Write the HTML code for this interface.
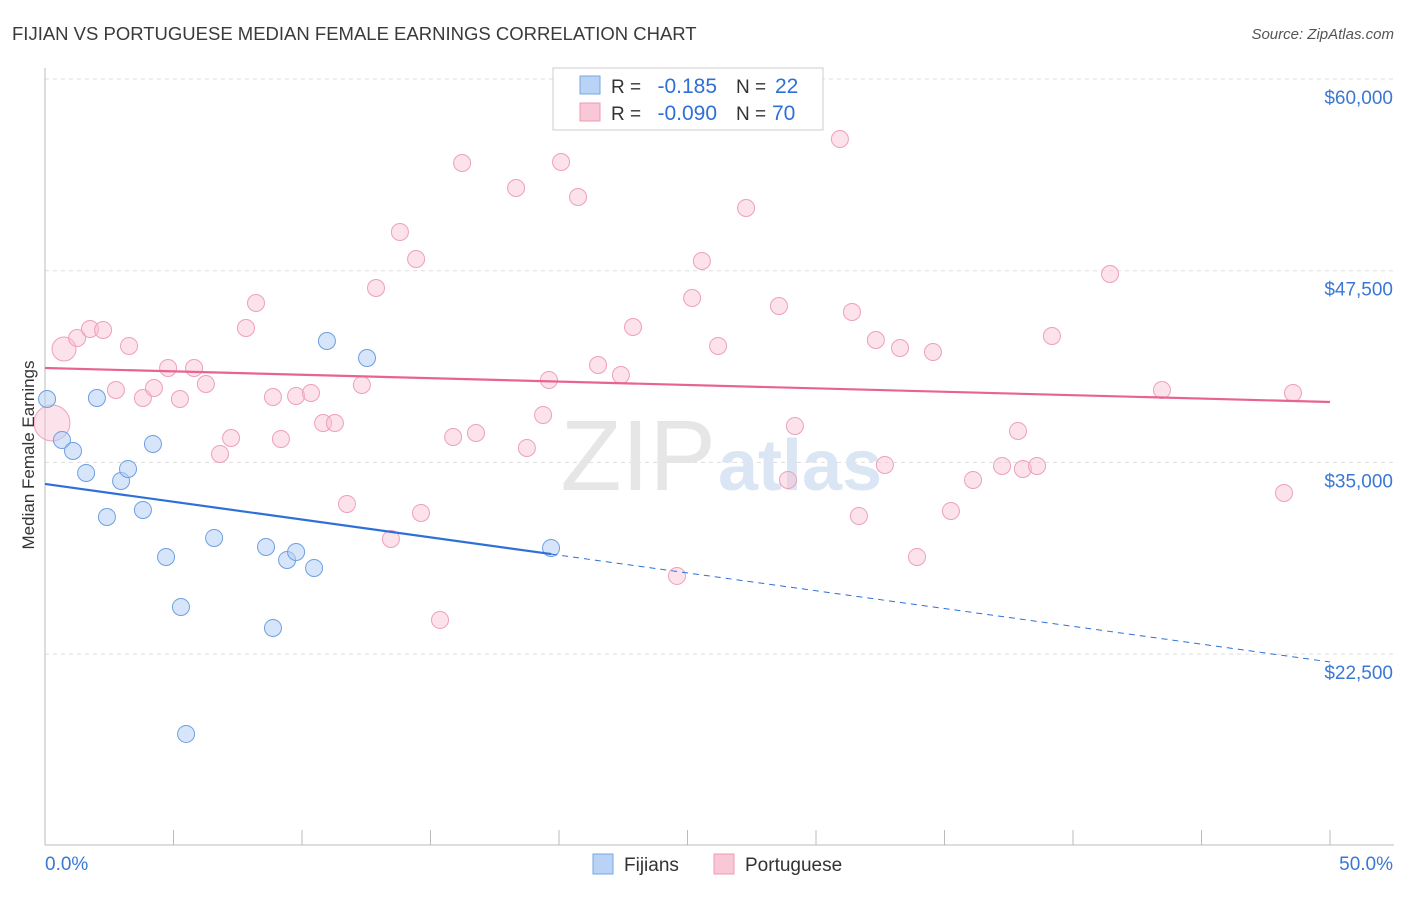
<!DOCTYPE html>
<html><head><meta charset="utf-8"><style>
body{margin:0;background:#fff;font-family:"Liberation Sans",sans-serif;}
svg text{font-family:"Liberation Sans",sans-serif;}
</style></head><body>
<svg id="chart" width="1406" height="892" xmlns="http://www.w3.org/2000/svg">
<text x="12" y="40" font-size="18.5" fill="#3a3a3a">FIJIAN VS PORTUGUESE MEDIAN FEMALE EARNINGS CORRELATION CHART</text>
<text x="1394" y="39" font-size="15" fill="#555" font-style="italic" text-anchor="end">Source: ZipAtlas.com</text>
<g id="grid"></g>
<text x="716" y="490" font-size="100" fill="#e6e6e6" text-anchor="end" font-family="Liberation Serif">ZIP</text>
<text x="718" y="490" font-size="72" fill="#dbe6f5" font-weight="bold">atlas</text>
<g id="axes"></g>
<g id="points"></g>
<g id="trends"></g>
<text x="34" y="455" font-size="17" fill="#333" text-anchor="middle" transform="rotate(-90 34 455)">Median Female Earnings</text>
<g>
<rect x="553" y="68" width="270" height="62" fill="#fff" stroke="#ccc"/>
<rect x="580" y="76" width="20" height="18" fill="#b8d3f5" stroke="#7aa7e0"/>
<text x="611" y="93" font-size="19" fill="#333">R =</text>
<text x="717" y="93" font-size="21" fill="#2f6fd8" text-anchor="end">-0.185</text>
<text x="736" y="93" font-size="19" fill="#333">N =</text>
<text x="775" y="93" font-size="21" fill="#2f6fd8">22</text>
<rect x="580" y="103" width="20" height="18" fill="#f9c8d6" stroke="#ec9ab4"/>
<text x="611" y="120" font-size="19" fill="#333">R =</text>
<text x="717" y="120" font-size="21" fill="#2f6fd8" text-anchor="end">-0.090</text>
<text x="736" y="120" font-size="19" fill="#333">N =</text>
<text x="772" y="120" font-size="21" fill="#2f6fd8">70</text>
</g>
<g>
<rect x="593" y="854" width="20" height="20" fill="#b8d3f5" stroke="#7aa7e0"/>
<text x="624" y="871" font-size="19" fill="#333">Fijians</text>
<rect x="714" y="854" width="20" height="20" fill="#f9c8d6" stroke="#ec9ab4"/>
<text x="745" y="871" font-size="19" fill="#333">Portuguese</text>
</g>
</svg>
<script>
const yTicks=[60000,47500,35000,22500];
const yTickLabels=["$60,000","$47,500","$35,000","$22,500"];
const fijX=[0.08,0.66,1.09,1.60,2.02,2.41,2.96,3.23,3.81,4.20,4.71,5.29,5.49,6.58,8.60,8.87,9.42,9.77,10.47,10.97,12.53,19.69];
const fijY=[39136,36463,35746,34311,39201,31442,33790,34572,31899,36202,28834,25574,17294,30073,29486,24205,28639,29160,28117,42918,41809,29421];
const porX=[0.27,0.74,1.25,1.75,2.26,2.76,3.27,3.81,4.24,4.79,5.25,5.80,6.26,6.81,7.24,7.82,8.21,8.87,9.18,9.77,10.35,10.82,11.28,11.75,12.33,12.88,13.46,13.81,14.44,14.63,15.37,15.88,16.23,16.77,18.33,18.75,19.38,19.61,20.08,20.74,21.52,22.41,22.88,24.59,25.18,25.56,26.19,27.28,28.91,28.56,29.18,30.93,31.40,31.67,32.33,32.68,33.27,33.93,34.55,35.25,36.11,37.24,37.86,38.05,38.60,39.18,41.44,43.46,48.21,48.56];
const porY=[37571,42396,43113,43700,43635,39723,42592,39201,39853,41157,39136,41157,40114,35550,36593,43765,45395,39266,36528,39332,39527,37571,37571,32290,40049,46373,30008,50024,48264,31703,24727,36658,54523,36919,52893,35941,38093,40375,54588,52306,41353,40701,43830,27596,45721,48134,42592,51589,33855,45200,37376,56088,44808,31508,42983,34833,42461,28834,42200,31834,33855,34768,37050,34572,34768,43244,47286,39723,33007,39527];
const trendFij=[33594,21988]; // values at 0% and 50%
const trendPor=[41157,38940];
const fijSolidEnd=19.7;
const X=p=>45+p*25.7;
const Y=v=>79+(60000-v)*191.7/12500;
const NS="http://www.w3.org/2000/svg";
function mk(tag,attrs,parent){const e=document.createElementNS(NS,tag);for(const k in attrs)e.setAttribute(k,attrs[k]);document.getElementById(parent).appendChild(e);return e;}
yTicks.forEach((t,i)=>{
 const l=mk('line',{x1:45,x2:1394,y1:Y(t),y2:Y(t),stroke:'#ddd','stroke-dasharray':'4,4'},'grid');
 
 
 const tx=mk('text',{x:1393,y:Y(t)+25,'font-size':19,fill:'#3a78d4','text-anchor':'end'},'grid');
 tx.textContent=yTickLabels[i];
 
 
});
const ax=mk('line',{x1:45,x2:45,y1:68,y2:845,stroke:'#bbb'},'axes');


const bx=mk('line',{x1:45,x2:1394,y1:845,y2:845,stroke:'#bbb'},'axes');


for(let i=0;i<=10;i++){const t=mk('line',{x1:X(i*5),x2:X(i*5),y1:830,y2:845,stroke:'#bbb'},'axes');
 
 }
[["0.0%",45,'start'],["50.0%",1393,'end']].forEach(d=>{const t=mk('text',{x:d[1],y:870,'font-size':19,fill:'#3a78d4','text-anchor':d[2]},'axes');t.textContent=d[0];
 
 });
porX.forEach((x,i)=>{const r=i===0?18:(i===1?12:8.5);
 const c=mk('circle',{cx:X(x),cy:Y(porY[i]),r:r,fill:'rgba(248,190,208,0.45)',stroke:'#eea0ba','stroke-width':1},'points');
 
 });
fijX.forEach((x,i)=>{const c=mk('circle',{cx:X(x),cy:Y(fijY[i]),r:8.5,fill:'rgba(180,208,245,0.55)',stroke:'#6f9fe0','stroke-width':1},'points');
 
 });
const pl=mk('line',{x1:X(0),y1:Y(trendPor[0]),x2:X(50),y2:Y(trendPor[1]),stroke:'#e8648f','stroke-width':2.2},'trends');


const fv=p=>trendFij[0]+(trendFij[1]-trendFij[0])*p/50;
const fs=mk('line',{x1:X(0),y1:Y(fv(0)),x2:X(fijSolidEnd),y2:Y(fv(fijSolidEnd)),stroke:'#2f6fd8','stroke-width':2.2},'trends');


const fd=mk('line',{x1:X(fijSolidEnd),y1:Y(fv(fijSolidEnd)),x2:X(50),y2:Y(fv(50)),stroke:'#2f6fd8','stroke-width':1,'stroke-dasharray':'6,5'},'trends');


</script>
</body></html>
